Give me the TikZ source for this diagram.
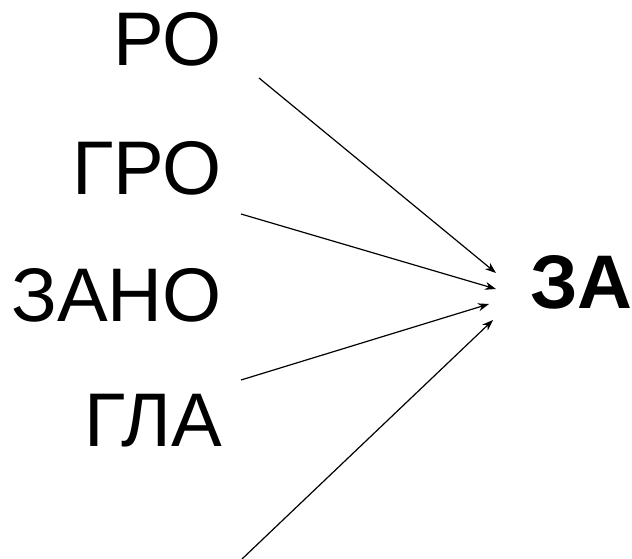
\documentclass[tikz,border=0pt]{standalone}
\usepackage{fontspec}
\setmainfont{Liberation Sans}
\usepackage{tikz}
\usetikzlibrary{arrows.meta,positioning,calc}
\definecolor{Ink}{HTML}{000000}

\begin{document}
\begin{tikzpicture}[x=1pt,y=-1pt,>={Stealth[length=11pt,width=8pt,inset=3.5pt]},
  word/.style={inner sep=0pt,anchor=base east,font=\fontsize{76}{90}\selectfont,text=Ink},
  goal/.style={inner sep=0pt,anchor=base west,font=\fontsize{76}{90}\selectfont\bfseries,text=Ink},
  link/.style={->,line width=1.2pt,Ink}]
  \useasboundingbox (0,0) rectangle (632,559);
  \node[word] (ro) at (222,66) {РО};
  \node[word] (gro) at (222,194) {ГРО};
  \node[word] (zano) at (222,321) {ЗАНО};
  \node[word] (gla) at (222,446) {ГЛА};
  \node[goal] (za) at (530,308) {ЗА};
  % arrow ends
  \coordinate (s1) at (259,78);
  \coordinate (s2) at (241,214);
  \coordinate (s3) at (241,380);
  \coordinate (s4) at (242,559);
  \coordinate (t1) at (496,273);
  \coordinate (t2) at (496,289);
  \coordinate (t3) at (489,304);
  \coordinate (t4) at (493,320);
  \draw[link] (s1)--(t1);
  \draw[link] (s2)--(t2);
  \draw[link] (s3)--(t3);
  \draw[link] (s4)--(t4);
\end{tikzpicture}
\end{document}
